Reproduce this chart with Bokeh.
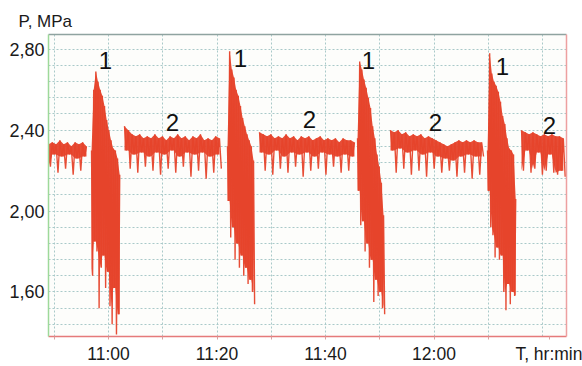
from bokeh.plotting import figure
from bokeh.models import Range1d, FixedTicker, LinearAxis, Label
from bokeh.embed import file_html
from bokeh.resources import INLINE

# ---- data (time in minutes after midnight, pressure in MPa) ----
seg_start = [648.94, 656.87, 662.95, 681.93, 687.83, 705.90, 711.98, 729.86, 736.13]
seg_step = [0.35, 0.2, 0.35, 0.2, 0.35, 0.2, 0.35, 0.2, 0.35]

plateau_a = [2.33, 2.22, 2.34, 2.28, 2.33, 2.19, 2.35, 2.27, 2.33, 2.21, 2.34,
             2.28, 2.32, 2.18, 2.34, 2.26, 2.33, 2.20, 2.34, 2.27, 2.32]
burst_1 = [2.30, 1.68, 2.60, 1.85, 2.69, 1.80, 2.64, 1.52, 2.60, 1.72, 2.57, 1.78,
           2.52, 1.62, 2.45, 1.70, 2.40, 1.53, 2.35, 1.44, 2.31, 1.62, 2.30, 1.39,
           2.26, 1.49, 2.18]
plateau_b = [2.42, 2.30, 2.40, 2.21, 2.38, 2.28, 2.37, 2.19, 2.38, 2.29, 2.36, 2.22,
             2.37, 2.27, 2.36, 2.20, 2.38, 2.29, 2.36, 2.18, 2.37, 2.28, 2.35, 2.21,
             2.37, 2.30, 2.36, 2.19, 2.38, 2.27, 2.36, 2.22, 2.37, 2.29, 2.35, 2.17,
             2.37, 2.28, 2.36, 2.20, 2.38, 2.29, 2.35, 2.16, 2.36, 2.27, 2.35, 2.19,
             2.37, 2.28, 2.36, 2.21]
burst_2 = [2.32, 2.05, 2.79, 1.87, 2.70, 1.92, 2.66, 1.76, 2.60, 1.84, 2.57, 1.72,
           2.52, 1.78, 2.46, 1.68, 2.42, 1.72, 2.38, 1.64, 2.35, 1.66, 2.32, 1.60,
           2.25, 1.54]
plateau_c = [2.39, 2.29, 2.38, 2.20, 2.37, 2.28, 2.38, 2.18, 2.36, 2.30, 2.37, 2.21,
             2.36, 2.27, 2.38, 2.19, 2.36, 2.29, 2.37, 2.22, 2.35, 2.28, 2.37, 2.17,
             2.36, 2.29, 2.37, 2.20, 2.35, 2.27, 2.36, 2.21, 2.37, 2.29, 2.35, 2.18,
             2.36, 2.28, 2.35, 2.22, 2.36, 2.27, 2.34, 2.19, 2.36, 2.28, 2.35, 2.20,
             2.35, 2.27, 2.34]
burst_3 = [2.36, 2.10, 2.74, 1.93, 2.70, 1.95, 2.65, 1.80, 2.61, 1.84, 2.56, 1.72,
           2.51, 1.76, 2.42, 1.55, 2.36, 1.66, 2.28, 1.58, 2.22, 1.60, 2.14, 1.52,
           1.98, 1.49]
plateau_d = [2.40, 2.30, 2.39, 2.19, 2.40, 2.31, 2.38, 2.21, 2.39, 2.29, 2.37, 2.18,
             2.38, 2.30, 2.37, 2.20, 2.38, 2.28, 2.36, 2.17, 2.37, 2.29, 2.36, 2.21,
             2.35, 2.27, 2.34, 2.19, 2.33, 2.26, 2.32, 2.20, 2.33, 2.25, 2.34, 2.17,
             2.35, 2.27, 2.34, 2.19, 2.35, 2.28, 2.34, 2.16, 2.35, 2.27, 2.34, 2.18,
             2.34, 2.27]
burst_4 = [2.30, 2.10, 2.78, 1.92, 2.68, 1.88, 2.64, 1.77, 2.62, 1.82, 2.59, 1.76,
           2.54, 1.78, 2.47, 1.60, 2.43, 1.51, 2.36, 1.64, 2.31, 1.54, 2.30, 1.60,
           2.28, 1.58, 2.06]
plateau_e = [2.40, 2.20, 2.39, 2.30, 2.38, 2.19, 2.39, 2.21, 2.38, 2.29, 2.37, 2.18,
             2.38, 2.20, 2.37, 2.28, 2.38, 2.19, 2.37, 2.18, 2.37, 2.20, 2.36, 2.17]
segments = [plateau_a, burst_1, plateau_b, burst_2, plateau_c,
            burst_3, plateau_d, burst_4, plateau_e]

# stage labels: "1" = burst, "2" = steady
lab_text = ["1", "2", "1", "2", "1", "2", "1", "2"]
lab_t = [659.45, 671.80, 684.33, 697.05, 707.93, 720.28, 732.63, 741.29]
lab_p = [2.746, 2.439, 2.756, 2.454, 2.746, 2.439, 2.717, 2.424]

# axes
x_ticks = [650, 660, 670, 680, 690, 700, 710, 720, 730, 741.3]
x_tick_labels = ["", "11:00", "", "11:20", "", "11:40", "", "12:00", "", "T, hr:min"]
x_grid = [650, 660, 670, 680, 690, 700, 710, 720, 730, 740]
y_ticks = [1.60, 2.00, 2.40, 2.80]
y_tick_labels = ["1,60", "2,00", "2,40", "2,80"]
y_grid = [1.44, 1.52, 1.60, 1.68, 1.76, 1.84, 1.92, 2.00, 2.08, 2.16, 2.24,
          2.32, 2.40, 2.48, 2.56, 2.64, 2.72, 2.80]
x_range = (648.94, 744.42)
y_range = (1.38, 2.873)
y_title = "P, MPa"

FONT = "Liberation Sans"
RED = "#e6432b"

p = figure(width=582, height=366, output_backend="svg", toolbar_location=None,
           x_range=Range1d(*x_range), y_range=Range1d(*y_range),
           min_border_left=48, min_border_right=16, min_border_top=34, min_border_bottom=27)
p.background_fill_color = "#fdfdfb"
p.border_fill_color = "#ffffff"
p.outline_line_color = None

for vals, t0, dt in zip(segments, seg_start, seg_step):
    xs = [t0 + i * dt for i in range(len(vals))]
    # solid core: from each peak down to the shallower neighbouring trough
    cx, top, bot = [], [], []
    for i in range(0, len(vals), 2):
        nb = [vals[j] for j in (i - 1, i + 1) if 0 <= j < len(vals)]
        cx.append(xs[i])
        top.append(vals[i])
        bot.append(max(nb))
    p.varea(x=cx, y1=bot, y2=top, fill_color=RED, fill_alpha=0.95)
    p.line(xs, vals, line_color=RED, line_width=1.4, line_alpha=0.95)

for txt, t, v in zip(lab_text, lab_t, lab_p):
    p.add_layout(Label(x=t, y=v, text=txt, text_font=FONT, text_font_size="24px",
                       text_align="center", text_baseline="middle", text_color="#111111"))

# grids
p.xgrid.ticker = FixedTicker(ticks=x_grid)
p.ygrid.ticker = FixedTicker(ticks=y_grid)
for g in (p.xgrid[0], p.ygrid[0]):
    g.grid_line_color = "#a9c9c9"
    g.grid_line_dash = "2 2"
    g.grid_line_width = 1

# bottom axis
xa = p.xaxis[0]
xa.ticker = FixedTicker(ticks=x_ticks)
xa.major_label_overrides = dict(zip(x_ticks, x_tick_labels))
xa.axis_line_color = "#e57a7a"
xa.axis_line_width = 1.5
xa.major_tick_line_color = "#d8a0a0"
xa.major_tick_in = 0
xa.major_tick_out = 3
xa.minor_tick_line_color = None
xa.major_label_standoff = 4
xa.major_label_text_font = FONT
xa.major_label_text_font_size = "17.5px"
xa.major_label_text_color = "#1a1a1a"

# left axis
ya = p.yaxis[0]
ya.ticker = FixedTicker(ticks=y_ticks)
ya.major_label_overrides = dict(zip(y_ticks, y_tick_labels))
ya.axis_line_color = "#9ed99a"
ya.axis_line_width = 1.5
ya.major_tick_line_color = None
ya.minor_tick_line_color = None
ya.major_tick_out = 0
ya.major_tick_in = 0
ya.major_label_standoff = 4
ya.major_label_text_font = FONT
ya.major_label_text_font_size = "18px"
ya.major_label_text_color = "#1a1a1a"

# right and top frame lines
ra = LinearAxis(ticker=FixedTicker(ticks=[]), axis_line_color="#eda0a0", axis_line_width=1.5,
                major_tick_line_color=None, minor_tick_line_color=None)
ta = LinearAxis(ticker=FixedTicker(ticks=[]), axis_line_color="#8fa3a0", axis_line_width=1.5,
                major_tick_line_color=None, minor_tick_line_color=None)
p.add_layout(ra, "right")
p.add_layout(ta, "above")

# y axis title at top left
p.title.text = y_title
p.title.align = "left"
p.title.offset = -30
p.title.standoff = 8
p.title.text_font = FONT
p.title.text_font_size = "17px"
p.title.text_font_style = "normal"
p.title.text_color = "#1a1a1a"

open("out.html", "w").write(file_html(p, INLINE))
